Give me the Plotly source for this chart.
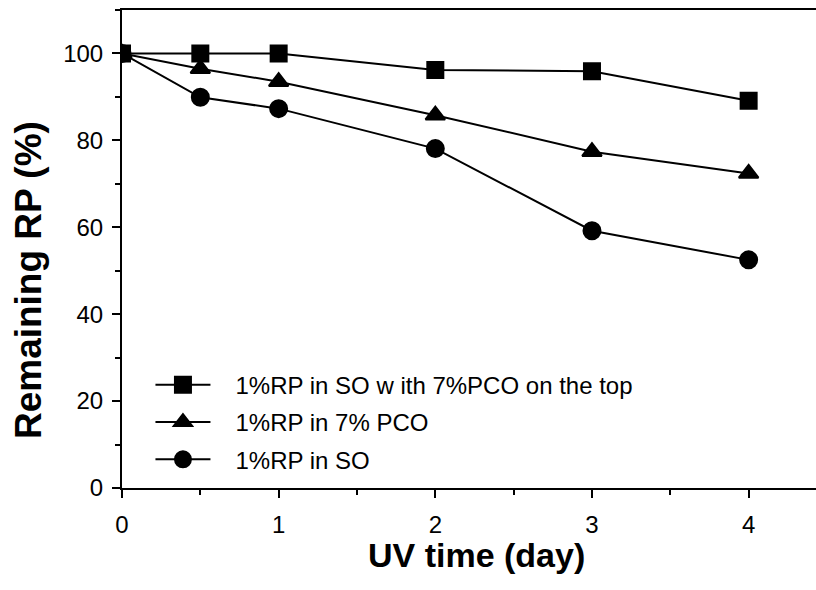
import plotly.graph_objects as go

days = [0, 0.5, 1, 2, 3, 4]
top_pco = [100, 100, 100, 96.2, 95.9, 89.1]
in_pco = [100, 96.5, 93.5, 85.8, 77.4, 72.4]
in_so = [100, 89.9, 87.3, 78.1, 59.2, 52.5]
names = ["1%RP in SO w ith 7%PCO on the top", "1%RP in 7% PCO", "1%RP in SO"]

fig = go.Figure()
for i, (ys, nm, sym, sz) in enumerate([(top_pco, names[0], "square", 16),
                                       (in_pco, names[1], "triangle-up", 17),
                                       (in_so, names[2], "circle", 17)]):
    fig.add_trace(go.Scatter(x=days, y=ys, name="\u00a0\u00a0\u00a0" + nm, mode="lines+markers",
                             legendgroup="g%d" % i,
                             line=dict(color="black", width=2),
                             marker=dict(symbol=sym, size=sz, color="black",
                                         line=dict(color="black", width=2))))

fig.update_layout(
    width=816, height=590,
    margin=dict(l=122, r=0, t=10, b=102),
    paper_bgcolor="white", plot_bgcolor="white",
    font=dict(family="Liberation Sans, Arial", size=24, color="black"),
    showlegend=True,
    legend=dict(x=0.041, y=0.262, xanchor="left", yanchor="top",
                bgcolor="rgba(0,0,0,0)", itemwidth=55,
                font=dict(size=24), tracegroupgap=3),
    xaxis=dict(range=[0, 4.43], tickvals=[0, 1, 2, 3, 4], showgrid=False, zeroline=False,
               showline=True, linecolor="black", linewidth=2, mirror=True,
               ticks="outside", ticklen=8, tickwidth=2, tickcolor="black",
               ticklabelstandoff=6,
               minor=dict(tickvals=[0.5, 1.5, 2.5, 3.5], ticks="outside", ticklen=5,
                          tickwidth=2, tickcolor="black")),
    yaxis=dict(range=[0, 110], tickvals=[0, 20, 40, 60, 80, 100], showgrid=False, zeroline=False,
               showline=True, linecolor="black", linewidth=2,
               ticks="outside", ticklen=8, tickwidth=2, tickcolor="black",
               ticklabelstandoff=4,
               minor=dict(tickvals=[10, 30, 50, 70, 90, 110], ticks="outside", ticklen=5,
                          tickwidth=2, tickcolor="black")),
    annotations=[
        dict(text="<b>Remaining RP (%)</b>", textangle=-90, showarrow=False,
             xref="paper", yref="paper", x=0, y=0.435, xanchor="center",
             yanchor="middle", xshift=-94, font=dict(size=37)),
        dict(text="<b>UV time (day)</b>", showarrow=False,
             xref="paper", yref="paper", x=0.5, y=0, xanchor="center",
             yanchor="middle", xshift=7, yshift=-67, font=dict(size=34)),
    ],
)
fig.write_html("out.html", config={"displayModeBar": False},
               post_script="document.body.style.margin='0';"
                           "document.documentElement.style.overflow='hidden';"
                           "document.body.style.overflow='hidden';")
